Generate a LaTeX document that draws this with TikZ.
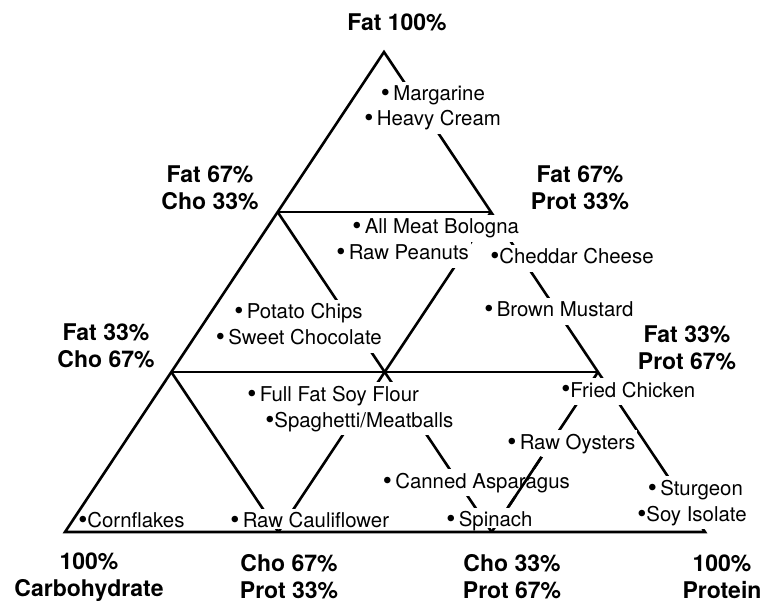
\documentclass[tikz,border=0pt]{standalone}
\usepackage{fontspec}
\setmainfont{TeX Gyre Heros}
\usetikzlibrary{calc}
\newcommand{\fdot}{\raisebox{-0.5pt}{\fontsize{13}{12}\selectfont\textbullet}}

\begin{document}
\begin{tikzpicture}[x=0.5pt,y=-0.5pt,line width=1.3pt,
                    line join=miter]
  \tikzstyle{food}=[fill=white,inner xsep=1pt,inner ysep=1.5pt,text height=7.8pt,
                    text depth=2.5pt,anchor=base west,font=\fontsize{10.2}{12}\selectfont]
  \tikzstyle{onbase}=[text depth=0pt,inner ysep=1pt]
  \tikzstyle{corner}=[align=center,font=\bfseries\fontsize{11.5}{13.5}\selectfont]

  \useasboundingbox (0,0) rectangle (764,603);

  % corners and thirds
  \coordinate (C) at (65,532);
  \coordinate (P) at (705,532);
  \coordinate (F) at (384,52);
  \coordinate (CF1) at ($(C)!1/3!(F)$);
  \coordinate (CF2) at ($(C)!2/3!(F)$);
  \coordinate (PF1) at ($(P)!1/3!(F)$);
  \coordinate (PF2) at ($(P)!2/3!(F)$);
  \coordinate (CP1) at ($(C)!1/3!(P)$);
  \coordinate (CP2) at ($(C)!2/3!(P)$);

  \draw (C) -- (P) -- (F) -- cycle;
  \draw (CF2) -- (PF2) (CF1) -- (PF1);
  \draw (CF2) -- (CP2) (CF1) -- (CP1);
  \draw (PF2) -- (CP1) (PF1) -- (CP2);

  \node[food] (marg)   at (377.5,101) {\fdot\,Margarine};
  \node[food] (cream)  at (361,126)   {\fdot\,Heavy Cream};
  \node[food] (bolo)   at (349,234)   {\fdot\,All Meat Bologna};
  \node[food] (peanut) at (333,260)   {\fdot\,Raw Peanuts\hspace{4pt}};
  \node[food] (ched)   at (487,264)   {\fdot Cheddar Cheese};
  \node[food] (must)   at (481,317)   {\fdot\,Brown Mustard};
  \node[food] (chips)  at (231,319)   {\fdot\,Potato Chips};
  \node[food] (choc)   at (212.5,345) {\fdot\,Sweet Chocolate};
  \node[food] (soyfl)  at (244,401)   {\fdot\,Full Fat Soy Flour};
  \node[food] (spag)   at (262,427)   {\fdot Spaghetti/Meatballs};
  \node[food] (fried)  at (558,397)   {\fdot Fried Chicken};
  \node[food] (oyst)   at (504,449)   {\fdot\,Raw Oysters};
  \node[food] (aspar)  at (379.5,488) {\fdot\,Canned Asparagus};
  \node[food] (sturg)  at (644.5,495) {\fdot\,Sturgeon};
  \node[food] (soyis)  at (634,521)   {\fdot Soy Isolate};
  \node[food,onbase] (spin)  at (443,526) {\fdot\,Spinach};
  \node[food,onbase,fill=none] (corn) at (75,527) {\fdot Cornflakes};
  \node[food,onbase] (caul)  at (227,527) {\fdot\,Raw Cauliflower};

  % the line that runs through Asparagus
  \draw ($(PF1)!0.53!(CP2)$) -- ($(PF1)!0.84!(CP2)$);

  \node[corner] (fat)   at (397,22)    {Fat 100\%};
  \node[corner] (fc)    at (210,188)   {Fat 67\%\\Cho 33\%};
  \node[corner] (fp)    at (580,188)   {Fat 67\%\\Prot 33\%};
  \node[corner] (cf)    at (106,346)   {Fat 33\%\\Cho 67\%};
  \node[corner] (pf)    at (687,348)   {Fat 33\%\\Prot 67\%};
  \node[corner] (carb)  at (89,577)    {100\%\\Carbohydrate};
  \node[corner] (cp)    at (289,577)   {Cho 67\%\\Prot 33\%};
  \node[corner] (pc)    at (512,577)   {Cho 33\%\\Prot 67\%};
  \node[corner] (prot)  at (722,577)   {100\%\\Protein};

\end{tikzpicture}
\end{document}
